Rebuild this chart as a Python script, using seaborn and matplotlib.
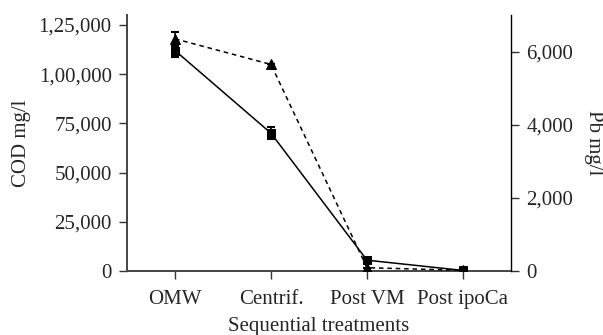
import matplotlib
matplotlib.use("Agg")
import matplotlib.pyplot as plt
import matplotlib.ticker as mticker
import seaborn as sns
import pandas as pd
import numpy as np

# Sequential treatment steps and measured concentrations
treatments = ["OMW", "Centrif.", "Post VM", "Post ipoCa"]
cod_values = [112000, 70000, 5500, 300]
cod_errors = [3500, 3000, 0, 0]
pb_values = [6350, 5650, 90, 20]
pb_errors = [190, 0, 0, 0]

sns.set_style("ticks")
plt.rcParams["font.family"] = ["Liberation Serif", "DejaVu Serif"]
plt.rcParams["font.size"] = 15

df = pd.DataFrame({
    "pos": np.arange(len(treatments)),
    "treatment": treatments,
    "cod": cod_values,
    "pb": pb_values,
})

fig = plt.figure(figsize=(6.03, 3.35), dpi=100)
ax = fig.add_axes([0.2106, 0.191, 0.6368, 0.764])
ax2 = ax.twinx()

# COD: solid line with square markers
sns.lineplot(data=df, x="pos", y="cod", ax=ax, color="black", linewidth=1.1,
             marker="s", markersize=6, markeredgecolor="black", zorder=3)
ax.errorbar(df["pos"], df["cod"], yerr=cod_errors, fmt="none", ecolor="black",
            elinewidth=1.2, capsize=3.2, capthick=1.5, zorder=3)

# Pb: dashed line with triangle markers
sns.lineplot(data=df, x="pos", y="pb", ax=ax2, color="black", linewidth=1.1,
             linestyle=(0, (3, 2.5)), marker="^", markersize=7,
             markeredgecolor="black", zorder=3)
ax2.errorbar(df["pos"], df["pb"], yerr=pb_errors, fmt="none", ecolor="black",
             elinewidth=1.2, capsize=3.2, capthick=1.5, zorder=3)

ax.set_xlim(-0.5, 3.5)
ax.set_ylim(0, 130000)
ax2.set_ylim(0, 7000)

ax.set_xticks(df["pos"])
ax.set_xticklabels(treatments)
ax.set_yticks([0, 25000, 50000, 75000, 100000, 125000])
ax.set_yticklabels(["0", "25,000", "50,000", "75,000", "1,00,000", "1,25,000"])
ax2.set_yticks([0, 2000, 4000, 6000])
ax2.yaxis.set_major_formatter(mticker.FuncFormatter(lambda v, p: f"{int(v):,}"))

ax.set_xlabel("Sequential treatments", fontsize=15)
ax.xaxis.set_label_coords(0.5, -0.178)
ax.set_ylabel("COD mg/l", fontsize=15)
ax.yaxis.set_label_coords(-0.25, 0.5)
ax2.set_ylabel("Pb mg/l", fontsize=15, rotation=270, va="center")
ax2.yaxis.set_label_coords(1.215, 0.5)
ax2.set_xlabel("")

for a in (ax, ax2):
    a.spines["top"].set_visible(False)
    a.tick_params(axis="y", length=5.5, width=1.0, color="#333333",
                  labelsize=15, pad=5.5)
ax.tick_params(axis="x", length=5.5, width=1.0, color="#333333",
               labelsize=15, pad=8)

ax.spines["left"].set_color("#444444")
ax.spines["bottom"].set_color("#444444")
ax.spines["left"].set_linewidth(1.4)
ax.spines["bottom"].set_linewidth(1.4)
ax.spines["right"].set_visible(False)
ax2.spines["left"].set_visible(False)
ax2.spines["bottom"].set_visible(False)
ax2.spines["right"].set_color("black")
ax2.spines["right"].set_linewidth(1.0)

fig.savefig("out.png", dpi=100)
